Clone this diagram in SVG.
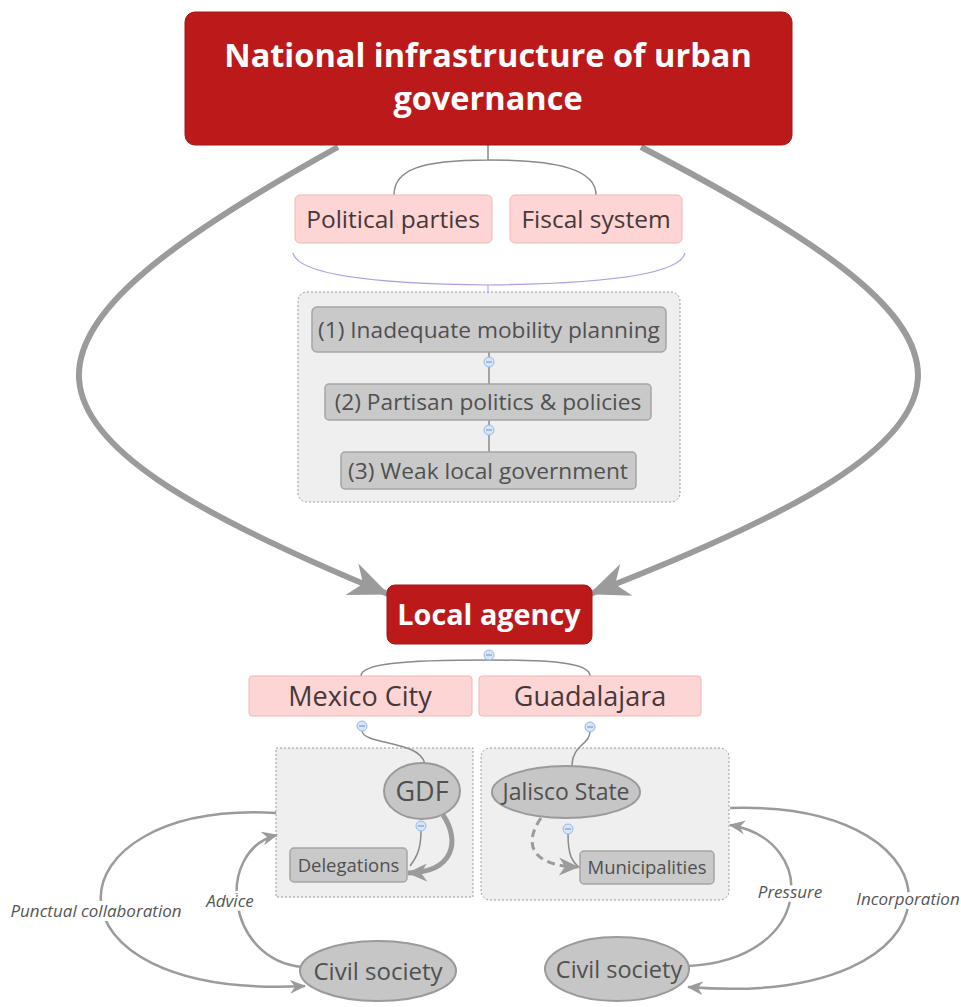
<svg xmlns="http://www.w3.org/2000/svg" width="961" height="1007" viewBox="0 0 961 1007">
<style>
.red{fill:#bc1a1a;stroke:#a51616;stroke-width:1}
.redt{fill:#fff;font-family:"Open Sans","Liberation Sans",sans-serif;font-weight:bold;text-anchor:middle}
.pink{fill:#fdd5d5;stroke:#f3b5b5;stroke-width:1}
.pinkt{fill:#463838;font-family:"Open Sans","Liberation Sans",sans-serif;text-anchor:middle}
.grey{fill:#c9c9c9;stroke:#a5a5a5;stroke-width:1.5}
.ell{fill:#c6c6c6;stroke:#9a9a9a;stroke-width:2}
.gt{fill:#505050;font-family:"Open Sans","Liberation Sans",sans-serif;text-anchor:middle}
.box{fill:#efefef;stroke:#9a9a9a;stroke-width:1;stroke-dasharray:2 2}
.ln{fill:none;stroke:#8a8a8a;stroke-width:1.5}
.big{fill:none;stroke:#9b9b9b;stroke-width:6}
.arc{fill:none;stroke:#9b9b9b;stroke-width:2.5}
.col{fill:#d6e5fa;stroke:#98b8e2;stroke-width:1}
.lab{fill:#555;font-family:"Open Sans","Liberation Sans",sans-serif;font-style:italic;font-size:17px;text-anchor:middle}
</style>
<defs>
<marker id="bigArrow" markerUnits="userSpaceOnUse" viewBox="0 -20 40 40" refX="39" refY="0" markerWidth="40" markerHeight="40" orient="auto">
<path d="M0,-17 L40,0 L0,17 L12,0 z" fill="#9b9b9b"/>
</marker>
<marker id="smArrow" markerUnits="userSpaceOnUse" viewBox="0 -8 16 16" refX="15" refY="0" markerWidth="16" markerHeight="16" orient="auto">
<path d="M0,-7 L16,0 L0,7 L5,0 z" fill="#9b9b9b"/>
</marker>
<marker id="medArrow" markerUnits="userSpaceOnUse" viewBox="0 -10 20 20" refX="19" refY="0" markerWidth="20" markerHeight="20" orient="auto">
<path d="M0,-9 L20,0 L0,9 L6,0 z" fill="#9b9b9b"/>
</marker>
</defs>

<g id="containers">
<rect class="box" x="298" y="292" width="382" height="210" rx="9"/>
<rect class="box" x="276" y="748" width="197" height="149"/>
<rect class="box" x="481" y="748" width="248" height="152" rx="9"/>
</g>

<g id="connectors">
<path class="big" d="M338,147 C -10,340 -21,426 388,594" marker-end="url(#bigArrow)"/>
<path class="big" d="M641,147 C 1013,340 1024,426 590,594" marker-end="url(#bigArrow)"/>
<path class="ln" d="M488,145 L488,160 C 420,160 394,170 394,195"/>
<path class="ln" d="M488,160 C 560,160 596,170 596,195"/>
<path d="M293,253 Q 300,283 488,285 Q 678,283 685,253" fill="none" stroke="#b39be0" stroke-width="1.2"/>
<path d="M488,285 L488,293" fill="none" stroke="#b39be0" stroke-width="1"/>
<path class="ln" d="M489,352 L489,384"/>
<path class="ln" d="M489,420 L489,452"/>
<path class="ln" d="M489,660 C 400,660 361,664 361,676"/>
<path class="ln" d="M489,660 C 560,660 590,664 590,676"/>
<path class="ln" d="M362,731 C 364,745 420,740 425,764"/>
<path class="ln" d="M590,731 C 590,745 572,745 572,766"/>
<path class="ln" d="M421,831 C 421,850 416,858 410,866"/>
<path d="M443,815 C 460,840 455,872 408,873" fill="none" stroke="#9b9b9b" stroke-width="5" marker-end="url(#medArrow)"/>
<path class="ln" d="M568,834 C 568,855 572,862 580,868"/>
<path d="M541,818 C 522,845 533,866 578,867" fill="none" stroke="#9b9b9b" stroke-width="3" stroke-dasharray="8 5" marker-end="url(#medArrow)"/>
<path class="arc" d="M276,813 C 45,800 30,1000 305,986" marker-end="url(#smArrow)"/>
<path class="arc" d="M303,967 C 225,960 215,850 277,835" marker-end="url(#smArrow)"/>
<path class="arc" d="M688,966 C 815,960 820,840 730,825" marker-end="url(#smArrow)"/>
<path class="arc" d="M730,808 C 975,800 975,1010 688,987" marker-end="url(#smArrow)"/>
<circle class="col" cx="489" cy="362" r="5"/>
<circle class="col" cx="489" cy="430" r="5"/>
<circle class="col" cx="489" cy="655" r="5"/>
<circle class="col" cx="362" cy="726" r="5"/>
<circle class="col" cx="590" cy="727" r="5"/>
<circle class="col" cx="421" cy="826" r="5"/>
<circle class="col" cx="568" cy="829" r="5"/>
<g stroke="#6f8fbf" stroke-width="1">
<path d="M486,362 h6 M486,430 h6 M486,655 h6 M359,726 h6 M587,727 h6 M418,826 h6 M565,829 h6"/>
</g>
<g id="labels">
<text class="lab" x="96" y="917" stroke="#fff" stroke-width="8" paint-order="stroke">Punctual collaboration</text>
<text class="lab" x="230" y="907" stroke="#fff" stroke-width="8" paint-order="stroke">Advice</text>
<text class="lab" x="790" y="898" stroke="#fff" stroke-width="8" paint-order="stroke">Pressure</text>
<text class="lab" x="908" y="905" stroke="#fff" stroke-width="8" paint-order="stroke">Incorporation</text>
</g>
</g>

<g id="national">
<rect class="red" x="185" y="12" width="607" height="133" rx="10"/>
<text class="redt" x="488" y="67" font-size="32.5">National infrastructure of urban</text>
<text class="redt" x="488" y="110" font-size="32.5">governance</text>
</g>
<g id="political-parties">
<rect class="pink" x="295" y="195" width="197" height="48" rx="5"/>
<text class="pinkt" x="393" y="228" font-size="24.5">Political parties</text>
</g>
<g id="fiscal-system">
<rect class="pink" x="510" y="195" width="172" height="48" rx="5"/>
<text class="pinkt" x="596" y="228" font-size="24.5">Fiscal system</text>
</g>
<g id="n1">
<rect class="grey" x="312" y="307" width="354" height="45" rx="5"/>
<text class="gt" x="489" y="337.5" font-size="22.7">(1) Inadequate mobility planning</text>
</g>
<g id="n2">
<rect class="grey" x="325" y="384" width="326" height="36" rx="4"/>
<text class="gt" x="488" y="410" font-size="22.7">(2) Partisan politics &amp; policies</text>
</g>
<g id="n3">
<rect class="grey" x="341" y="452" width="295" height="37" rx="4"/>
<text class="gt" x="488" y="478.5" font-size="22.7">(3) Weak local government</text>
</g>
<g id="local-agency">
<rect class="red" x="387" y="585" width="205" height="59" rx="8"/>
<text class="redt" x="489" y="625" font-size="28.8">Local agency</text>
</g>
<g id="mexico-city">
<rect class="pink" x="249" y="676" width="223" height="40" rx="3"/>
<text class="pinkt" x="360" y="705.5" font-size="27">Mexico City</text>
</g>
<g id="guadalajara">
<rect class="pink" x="479" y="676" width="222" height="40" rx="3"/>
<text class="pinkt" x="590" y="705.5" font-size="27">Guadalajara</text>
</g>
<g id="gdf">
<ellipse class="ell" cx="422" cy="791" rx="38" ry="28"/>
<text class="gt" x="422" y="800.5" font-size="27">GDF</text>
</g>
<g id="delegations">
<rect class="grey" x="290" y="848" width="117" height="34" rx="4"/>
<text class="gt" x="348.5" y="871.5" font-size="18.5">Delegations</text>
</g>
<g id="jalisco-state">
<ellipse class="ell" cx="566" cy="792" rx="74" ry="26"/>
<text class="gt" x="566" y="800" font-size="23">Jalisco State</text>
</g>
<g id="municipalities">
<rect class="grey" x="580" y="851" width="134" height="33" rx="4"/>
<text class="gt" x="647" y="874" font-size="18.5">Municipalities</text>
</g>
<g id="civil-society-left">
<ellipse class="ell" cx="378" cy="971" rx="78" ry="30"/>
<text class="gt" x="378" y="979.5" font-size="24">Civil society</text>
</g>
<g id="civil-society-right">
<ellipse class="ell" cx="617" cy="969" rx="72" ry="32"/>
<text class="gt" x="619" y="977.5" font-size="23.5">Civil society</text>
</g>
</svg>
